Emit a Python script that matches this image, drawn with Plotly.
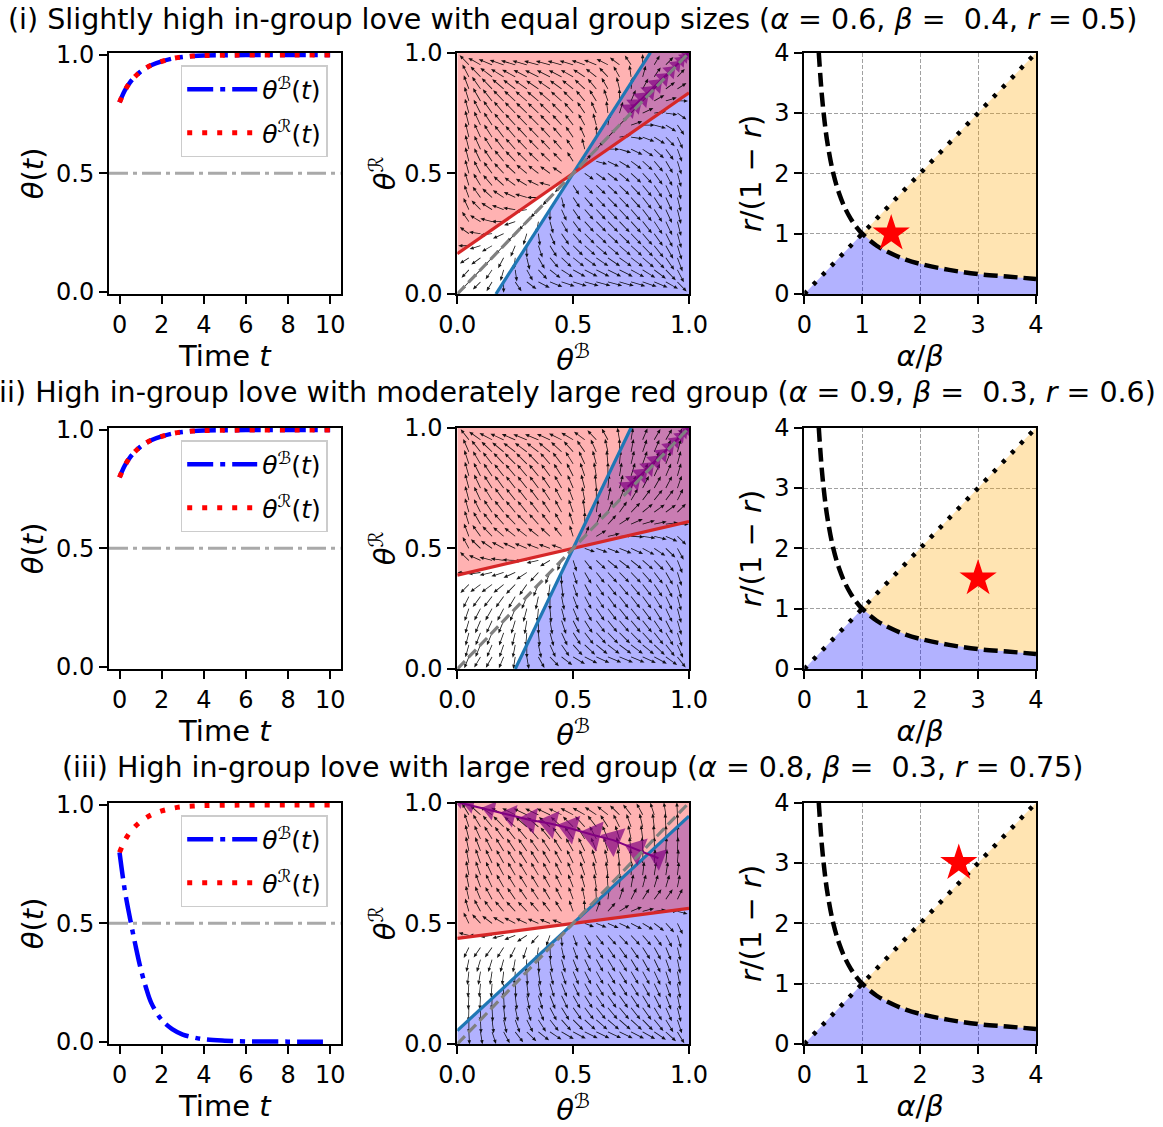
import numpy as np
import plotly.graph_objects as go

FONT = "DejaVu Sans"
W, H = 1163, 1127

# ---------------- data ----------------
ALPHA = [0.6, 0.9, 0.8]
BETA = [0.4, 0.3, 0.3]
R_SIZE = [0.5, 0.6, 0.75]

ROW_TITLES = [
    "(i) Slightly high in-group love with equal group sizes (<i>α</i> = 0.6, <i>β</i> =\u00a0 0.4, <i>r</i> = 0.5)",
    "(ii) High in-group love with moderately large red group (<i>α</i> = 0.9, <i>β</i> =\u00a0 0.3, <i>r</i> = 0.6)",
    "(iii) High in-group love with large red group (<i>α</i> = 0.8, <i>β</i> =\u00a0 0.3, <i>r</i> = 0.75)",
]

T_TIME = [0, 0.25, 0.5, 0.75, 1, 1.25, 1.5, 2, 2.5, 3, 3.5, 4, 5, 6, 8, 10]
THETA_B = [
    [0.80, 0.85, 0.885, 0.91, 0.93, 0.945, 0.957, 0.973, 0.985, 0.992, 0.996, 0.998, 0.999, 1.0, 1.0, 1.0],
    [0.80, 0.85, 0.885, 0.91, 0.93, 0.945, 0.957, 0.973, 0.985, 0.992, 0.996, 0.998, 0.999, 1.0, 1.0, 1.0],
    [0.80, 0.64, 0.52, 0.41, 0.31, 0.23, 0.165, 0.092, 0.053, 0.03, 0.018, 0.01, 0.004, 0.001, 0.0, 0.0],
]
THETA_R = [
    [0.80, 0.85, 0.885, 0.91, 0.93, 0.945, 0.957, 0.973, 0.985, 0.992, 0.996, 0.998, 0.999, 1.0, 1.0, 1.0],
    [0.80, 0.85, 0.885, 0.91, 0.93, 0.945, 0.957, 0.973, 0.985, 0.992, 0.996, 0.998, 0.999, 1.0, 1.0, 1.0],
    [0.80, 0.85, 0.885, 0.91, 0.93, 0.945, 0.958, 0.975, 0.986, 0.993, 0.996, 0.998, 0.999, 1.0, 1.0, 1.0],
]

# phase-plane trajectories
TRAJ_B = [
    [0.745, 0.77, 0.80, 0.83, 0.86, 0.89, 0.92, 0.945, 0.965, 0.98, 0.99, 0.997],
    [0.735, 0.765, 0.795, 0.825, 0.855, 0.885, 0.915, 0.94, 0.962, 0.978, 0.99, 0.997],
    [0.868, 0.774, 0.673, 0.587, 0.486, 0.40, 0.314, 0.227, 0.141, 0.055, 0.01],
]
TRAJ_R = [
    [0.765, 0.785, 0.812, 0.84, 0.868, 0.895, 0.924, 0.948, 0.967, 0.981, 0.991, 0.997],
    [0.755, 0.78, 0.807, 0.835, 0.863, 0.891, 0.919, 0.943, 0.964, 0.979, 0.99, 0.997],
    [0.770, 0.805, 0.845, 0.866, 0.894, 0.914, 0.928, 0.949, 0.970, 0.990, 1.0],
]
TRAJ_SIZE = [
    [16, 17, 17, 16, 16, 15, 14, 13, 12, 11, 10, 9],
    [16, 17, 17, 16, 16, 15, 14, 13, 12, 11, 10, 9],
    [20, 25, 27, 27, 26, 25, 23, 20, 17, 14, 10],
]

# boundary curve of the regime diagram
CURVE_X = [0.25, 0.3, 0.35, 0.4, 0.5, 0.6, 0.7, 0.8, 0.9, 1.0, 1.25, 1.5, 1.75, 2.0, 2.5, 3.0, 3.5, 4.0]
CURVE_Y = [4.0, 3.33, 2.86, 2.5, 2.0, 1.67, 1.43, 1.25, 1.11, 1.0, 0.8, 0.67, 0.57, 0.5, 0.4, 0.33, 0.29, 0.25]
DIAG_X = [0, 4]
DIAG_Y = [0, 4]

QUIVER_GRID = np.linspace(0.05, 0.95, 19)

# ---------------- layout geometry (reference pixels) ----------------
def PX(x):
    return x / W


def PY(y):
    return 1 - y / H


COL_PIX = [[109, 340.7], [457.3, 689], [804.3, 1036]]
ROW_TOP = [52.7, 427.7, 802.7]
ROW_BOT = [294.0, 669.0, 1044.0]
COL_DOM = [[PX(a), PX(b)] for a, b in COL_PIX]
ROW_DOM = [[PY(b), PY(t)] for t, b in zip(ROW_TOP, ROW_BOT)]
TITLE_Y = [19, 392, 767]

fig = go.Figure()

axis_common = dict(
    showline=True, linecolor="black", linewidth=2, mirror=True,
    ticks="outside", ticklen=8, tickwidth=2, tickcolor="black",
    tickfont=dict(size=24, family=FONT, color="black"),
    showgrid=False, zeroline=False, automargin=False,
)
title_font = dict(size=29, family=FONT, color="black")


def clip_square(a, b, c):
    poly = [(0, 0), (1, 0), (1, 1), (0, 1)]
    out = []
    for i in range(4):
        P, Q = poly[i], poly[(i + 1) % 4]
        fp = a * P[0] + b * P[1] + c
        fq = a * Q[0] + b * Q[1] + c
        if fp >= 0:
            out.append(P)
        if fp * fq < 0:
            t = fp / (fp - fq)
            out.append((P[0] + t * (Q[0] - P[0]), P[1] + t * (Q[1] - P[1])))
    return out


def line_in_square(a, b, c):
    pts = []
    for x in (0.0, 1.0):
        y = -(a * x + c) / b
        if -1e-9 <= y <= 1 + 1e-9:
            pts.append((x, y))
    for y in (0.0, 1.0):
        x = -(b * y + c) / a
        if -1e-9 <= x <= 1 + 1e-9:
            pts.append((x, y))
    pts = sorted(set((round(p[0], 9), round(p[1], 9)) for p in pts))
    return [pts[0], pts[-1]]


for i in range(3):
    a, b, r = ALPHA[i], BETA[i], R_SIZE[i]
    ax_ids = [3 * i + j + 1 for j in range(3)]
    xs = ["x" if k == 1 else f"x{k}" for k in ax_ids]
    ys = ["y" if k == 1 else f"y{k}" for k in ax_ids]
    leg = "legend" if i == 0 else f"legend{i + 1}"

    # ---------- column 1: time series ----------
    fig.add_trace(go.Scatter(
        x=[-0.5, 10.5], y=[0.5, 0.5], mode="lines",
        line=dict(color="#a9a9a9", width=3, dash="19px,5px,4px,5px"),
        showlegend=False, hoverinfo="skip", xaxis=xs[0], yaxis=ys[0]))
    fig.add_trace(go.Scatter(
        x=T_TIME, y=THETA_B[i], mode="lines", line_shape="spline",
        line=dict(color="blue", width=4.5, dash="26px,7px,5px,7px"),
        name="<i>θ</i><sup>ℬ</sup>(<i>t</i>)", legend=leg, legendgroup=f"b{i}",
        xaxis=xs[0], yaxis=ys[0]))
    fig.add_trace(go.Scatter(
        x=T_TIME, y=THETA_R[i], mode="lines", line_shape="spline",
        line=dict(color="red", width=5, dash="5px,10px"),
        name="<i>θ</i><sup>ℛ</sup>(<i>t</i>)", legend=leg, legendgroup=f"r{i}",
        xaxis=xs[0], yaxis=ys[0]))

    # ---------- column 2: phase plane ----------
    sx = (COL_DOM[1][1] - COL_DOM[1][0]) * W
    sy = (ROW_DOM[i][1] - ROW_DOM[i][0]) * H
    ab, bb = a * (1 - r), -b * r
    cb = -0.5 * (ab + bb)
    ar, br = -b * (1 - r), a * r
    cr = -0.5 * (ar + br)
    for (ca, cbv, cc, fc) in [(ab, bb, cb, "rgba(0,0,255,0.3)"), (ar, br, cr, "rgba(255,0,0,0.3)")]:
        poly = clip_square(ca, cbv, cc)
        fig.add_trace(go.Scatter(
            x=[p[0] for p in poly] + [poly[0][0]], y=[p[1] for p in poly] + [poly[0][1]],
            mode="lines", fill="toself", fillcolor=fc, line=dict(width=0),
            showlegend=False, hoverinfo="skip", xaxis=xs[1], yaxis=ys[1]))

    # quiver field of the model
    GX, GY = np.meshgrid(QUIVER_GRID, QUIVER_GRID)
    GX, GY = GX.ravel(), GY.ravel()
    U = GX * (1 - GX) * (a * (1 - r) * (2 * GX - 1) - b * r * (2 * GY - 1))
    V = GY * (1 - GY) * (a * r * (2 * GY - 1) - b * (1 - r) * (2 * GX - 1))
    mag = np.hypot(U * sx, V * sy)
    mmax = mag.max()
    AX, AY = [], []
    for x0, y0, u, v, m in zip(GX, GY, U, V, mag):
        if m <= 1e-12:
            continue
        dx, dy = u * sx / m, v * sy / m
        L = 15.0 * (m / mmax) ** 0.15
        L = max(L, 6.0)
        nx, ny = -dy, dx
        hw, hh = 0.4, 1.8
        hl = min(4.2, 0.7 * L)
        base = L - hl
        pts = [
            (nx * hw, ny * hw),
            (dx * base + nx * hw, dy * base + ny * hw),
            (dx * base + nx * hh, dy * base + ny * hh),
            (dx * L, dy * L),
            (dx * base - nx * hh, dy * base - ny * hh),
            (dx * base - nx * hw, dy * base - ny * hw),
            (-nx * hw, -ny * hw),
        ]
        for px, py in pts:
            AX.append(x0 + px / sx)
            AY.append(y0 + py / sy)
        AX.append(None)
        AY.append(None)
    fig.add_trace(go.Scatter(
        x=AX, y=AY, mode="lines", fill="toself", fillcolor="rgba(0,0,0,0.9)",
        line=dict(width=0), showlegend=False, hoverinfo="skip",
        xaxis=xs[1], yaxis=ys[1]))

    # boundary lines
    for (ca, cbv, cc, lc) in [(ab, bb, cb, "#1f77b4"), (ar, br, cr, "#d62728")]:
        seg = line_in_square(ca, cbv, cc)
        fig.add_trace(go.Scatter(
            x=[seg[0][0], seg[1][0]], y=[seg[0][1], seg[1][1]], mode="lines",
            line=dict(color=lc, width=3.2), showlegend=False, hoverinfo="skip",
            xaxis=xs[1], yaxis=ys[1]))

    # trajectory
    tb, tr = TRAJ_B[i], TRAJ_R[i]
    angs = []
    for k in range(len(tb)):
        k0, k1 = (0, 1) if k == 0 else (k - 1, k)
        ddx = (tb[k1] - tb[k0]) * sx
        ddy = (tr[k1] - tr[k0]) * sy
        angs.append(float(np.degrees(np.arctan2(ddx, ddy))))
    fig.add_trace(go.Scatter(
        x=tb, y=tr, mode="lines+markers",
        line=dict(color="purple", width=2),
        marker=dict(symbol="triangle-up", size=TRAJ_SIZE[i], color="purple",
                    angle=angs, line=dict(width=0)),
        showlegend=False, hoverinfo="skip", xaxis=xs[1], yaxis=ys[1]))

    # diagonal
    fig.add_trace(go.Scatter(
        x=[0, 1], y=[0, 1], mode="lines",
        line=dict(color="gray", width=3.2, dash="11px,5px"),
        showlegend=False, hoverinfo="skip", xaxis=xs[1], yaxis=ys[1]))

    # ---------- column 3: regime diagram ----------
    cx = np.array(CURVE_X)
    cy = np.array(CURVE_Y)
    right = cx >= 1
    ox = [1.0] + list(cx[right]) + [DIAG_X[1], 1.0]
    oy = [1.0] + list(cy[right]) + [DIAG_Y[1], 1.0]
    fig.add_trace(go.Scatter(
        x=ox, y=oy, mode="lines", fill="toself", fillcolor="rgba(255,165,0,0.3)",
        line=dict(width=0), showlegend=False, hoverinfo="skip",
        xaxis=xs[2], yaxis=ys[2]))
    bx = [DIAG_X[0], 1.0] + list(cx[right]) + [4.0, DIAG_X[0]]
    by = [DIAG_Y[0], 1.0] + list(cy[right]) + [0.0, DIAG_Y[0]]
    fig.add_trace(go.Scatter(
        x=bx, y=by, mode="lines", fill="toself", fillcolor="rgba(0,0,255,0.3)",
        line=dict(width=0), showlegend=False, hoverinfo="skip",
        xaxis=xs[2], yaxis=ys[2]))
    fig.add_trace(go.Scatter(
        x=DIAG_X, y=DIAG_Y, mode="lines",
        line=dict(color="black", width=4.5, dash="4px,9px"),
        showlegend=False, hoverinfo="skip", xaxis=xs[2], yaxis=ys[2]))
    fig.add_trace(go.Scatter(
        x=CURVE_X, y=CURVE_Y, mode="lines", line_shape="spline",
        line=dict(color="black", width=4.5, dash="14px,6px"),
        showlegend=False, hoverinfo="skip", xaxis=xs[2], yaxis=ys[2]))
    fig.add_trace(go.Scatter(
        x=[a / b], y=[r / (1 - r)], mode="markers",
        marker=dict(symbol="star", size=28, color="red", line=dict(width=0)),
        showlegend=False, hoverinfo="skip", xaxis=xs[2], yaxis=ys[2]))

    # ---------- axes ----------
    def axname(prefix, k):
        return f"{prefix}axis" if k == 1 else f"{prefix}axis{k}"

    fig.layout[axname("x", ax_ids[0])] = dict(
        axis_common, domain=COL_DOM[0], anchor=ys[0], range=[-0.5, 10.5],
        tickvals=[0, 2, 4, 6, 8, 10],
        title=dict(text="Time <i>t</i>", font=title_font, standoff=6))
    fig.layout[axname("y", ax_ids[0])] = dict(
        axis_common, domain=ROW_DOM[i], anchor=xs[0], range=[-0.01, 1.01],
        tickvals=[0, 0.5, 1], ticktext=["0.0", "0.5", "1.0"],
        title=dict(text="<i>θ</i>(<i>t</i>)", font=title_font, standoff=4))
    fig.layout[axname("x", ax_ids[1])] = dict(
        axis_common, domain=COL_DOM[1], anchor=ys[1], range=[0, 1],
        tickvals=[0, 0.5, 1], ticktext=["0.0", "0.5", "1.0"],
        title=dict(text="<i>θ</i><sup>ℬ</sup>", font=title_font, standoff=0))
    fig.layout[axname("y", ax_ids[1])] = dict(
        axis_common, domain=ROW_DOM[i], anchor=xs[1], range=[0, 1],
        tickvals=[0, 0.5, 1], ticktext=["0.0", "0.5", "1.0"],
        title=dict(text="<i>θ</i><sup>ℛ</sup>", font=title_font, standoff=0))
    grid = dict(showgrid=True, gridcolor="#a0a0a0", gridwidth=1, griddash="4px,2px")
    fig.layout[axname("x", ax_ids[2])] = dict(
        axis_common, **grid, domain=COL_DOM[2], anchor=ys[2], range=[0, 4],
        tickvals=[0, 1, 2, 3, 4],
        title=dict(text="<i>α</i>/<i>β</i>", font=title_font, standoff=2))
    fig.layout[axname("y", ax_ids[2])] = dict(
        axis_common, **grid, domain=ROW_DOM[i], anchor=xs[2], range=[0, 4],
        tickvals=[0, 1, 2, 3, 4],
        title=dict(text="<i>r</i>/(1 − <i>r</i>)", font=title_font, standoff=4))

    fig.layout[leg] = dict(
        x=PX(327.7), xanchor="right", y=PY(65 + 375 * i), yanchor="top",
        bgcolor="rgba(255,255,255,0.85)", bordercolor="#cccccc", borderwidth=1.5,
        font=dict(size=25, family=FONT, color="black"), itemwidth=70,
        tracegroupgap=8)

    fig.add_annotation(
        text=ROW_TITLES[i], x=PX(572), y=PY(TITLE_Y[i]), xref="paper", yref="paper",
        xanchor="center", yanchor="middle", showarrow=False,
        font=dict(size=28.5, family=FONT, color="black"))

fig.update_layout(
    width=W, height=H, autosize=False,
    margin=dict(l=0, r=0, t=0, b=0),
    paper_bgcolor="white", plot_bgcolor="white",
    font=dict(family=FONT, color="black"),
)

fig.write_html("out.html", config={"displayModeBar": False},
               post_script="document.body.style.margin='0px';")
